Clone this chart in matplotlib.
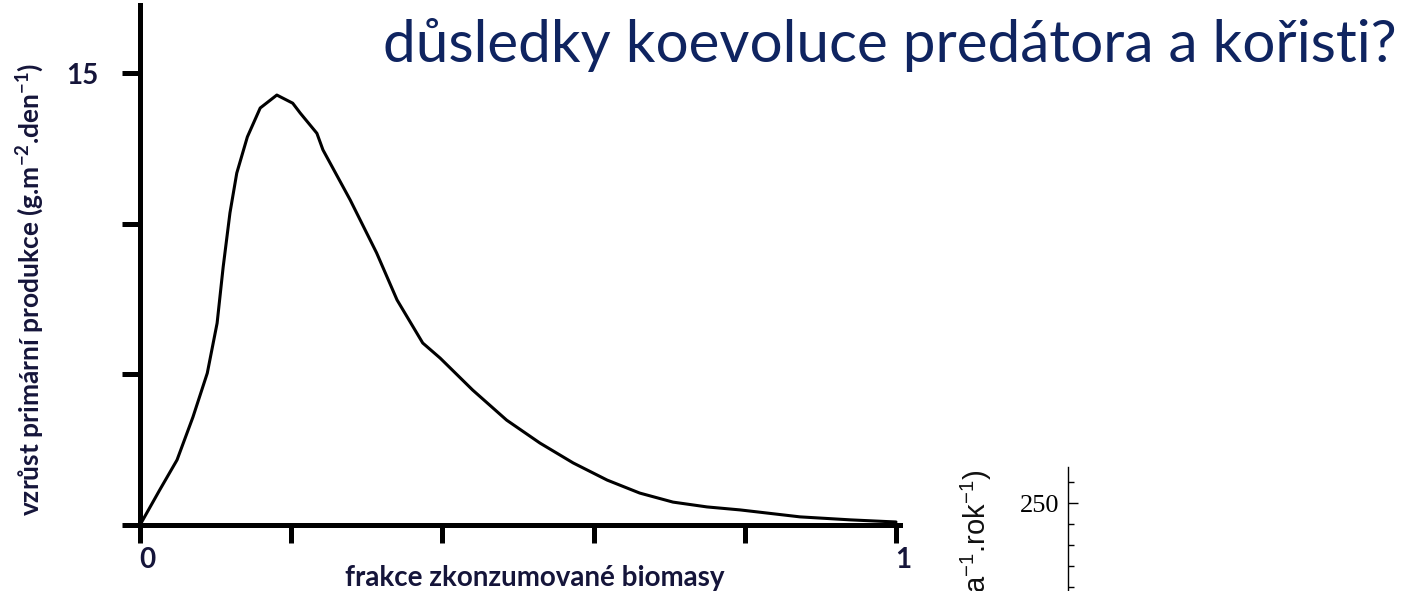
import numpy as np
import matplotlib
matplotlib.use('Agg')
import matplotlib.pyplot as plt
import matplotlib.transforms as mtransforms

plt.rcParams['mathtext.default'] = 'regular'

# curve: fraction of consumed biomass vs. increase of primary production
frac = [0.0, 0.026, 0.049, 0.070, 0.089, 0.102, 0.110, 0.119, 0.128, 0.142, 0.159, 0.181,
        0.202, 0.212, 0.234, 0.242, 0.278, 0.313, 0.340, 0.374, 0.397, 0.440, 0.485, 0.529,
        0.573, 0.618, 0.661, 0.705, 0.750, 0.794, 0.873, 0.940, 1.0]
growth = [0.0, 1.16, 2.16, 3.58, 5.04, 6.70, 8.56, 10.36, 11.68, 12.88, 13.84, 14.27,
          14.0, 13.67, 13.0, 12.45, 10.79, 9.03, 7.47, 6.04, 5.54, 4.48, 3.48, 2.72,
          2.06, 1.49, 1.06, 0.76, 0.60, 0.50, 0.27, 0.17, 0.1]

x_ticks = [0, 0.2, 0.4, 0.6, 0.8, 1.0]
x_ticklabels = ['0', '', '', '', '', '1']
y_ticks = [0, 5, 10, 15]
y_ticklabels = ['', '', '', '15']

title = 'důsledky koevoluce predátora a kořisti?'
xlab = 'frakce zkonzumované biomasy'
ylab = 'vzrůst primární produkce (g.m$^{-2}$.den$^{-1}$)'

# fragment of a second figure at the bottom right
frag_ticks = [250]
frag_minor = [50, 100, 150, 200, 300]
frag_label = 'a$^{-1}$.rok$^{-1}$)'

W, H = 1411, 591
fig = plt.figure(figsize=(W / 100, H / 100), dpi=100)
fig.patch.set_facecolor('white')

label_col = '#15153a'
title_col = '#0f2460'

# main axes
ax = fig.add_axes([140 / W, 1 - 525 / H, (900 - 140) / W, (525 - 5) / H])
ax.plot(frac, growth, color='black', lw=2.2, solid_capstyle='round', solid_joinstyle='round')
ax.set_xlim(0, 1.0053)
ax.set_ylim(0, (525 - 5) / 30.13)
for s in ['top', 'right']:
    ax.spines[s].set_visible(False)
for s in ['left', 'bottom']:
    ax.spines[s].set_linewidth(3.6)
ax.set_xticks(x_ticks)
ax.set_xticklabels(x_ticklabels, fontfamily='Lato', fontweight='bold', fontsize=20, color=label_col)
ax.set_yticks(y_ticks)
ax.set_yticklabels(y_ticklabels, fontfamily='Lato', fontweight='bold', fontsize=20, color=label_col)
ax.tick_params(axis='both', direction='out', length=13, width=3.6)
ax.tick_params(axis='x', pad=3)
ax.tick_params(axis='y', pad=17)
offset = mtransforms.ScaledTranslation(7 / 100, 0, fig.dpi_scale_trans)
for lbl in ax.get_xticklabels():
    lbl.set_transform(lbl.get_transform() + offset)

fig.text(535 / W, 1 - 578 / H, xlab, fontfamily='Lato', fontweight='bold', fontsize=20,
         color=label_col, ha='center', va='center')
fig.text(30 / W, 1 - 289 / H, ylab, fontfamily='Lato', fontweight='bold', fontsize=19,
         color=label_col, ha='center', va='center', rotation=90)

fig.text(383 / W, 1 - 62 / H, title, fontfamily='Lato', fontsize=42, color=title_col,
         ha='left', va='baseline')

# partial second chart
ax2 = fig.add_axes([1068 / W, 0, 300 / W, (591 - 467) / H])
ax2.set_ylim(250 - 88 / 21 * 50, 250 + 36 / 21 * 50)
ax2.patch.set_alpha(0)
for s in ['top', 'right', 'bottom']:
    ax2.spines[s].set_visible(False)
ax2.spines['left'].set_linewidth(1.0)
ax2.set_xticks([])
ax2.set_yticks(frag_ticks)
ax2.set_yticklabels([str(t) for t in frag_ticks], fontfamily='Liberation Serif', fontsize=19)
ax2.set_yticks(frag_minor, minor=True)
ax2.tick_params(axis='y', which='major', direction='in', length=7, width=1, pad=6)
ax2.tick_params(axis='y', which='minor', direction='in', length=4, width=1)
fig.text(976 / W, 1 - 470 / H, frag_label, fontfamily='Liberation Sans', fontsize=21,
         color='#111111', ha='center', va='top', rotation=90)

fig.savefig('out.png', dpi=100)
